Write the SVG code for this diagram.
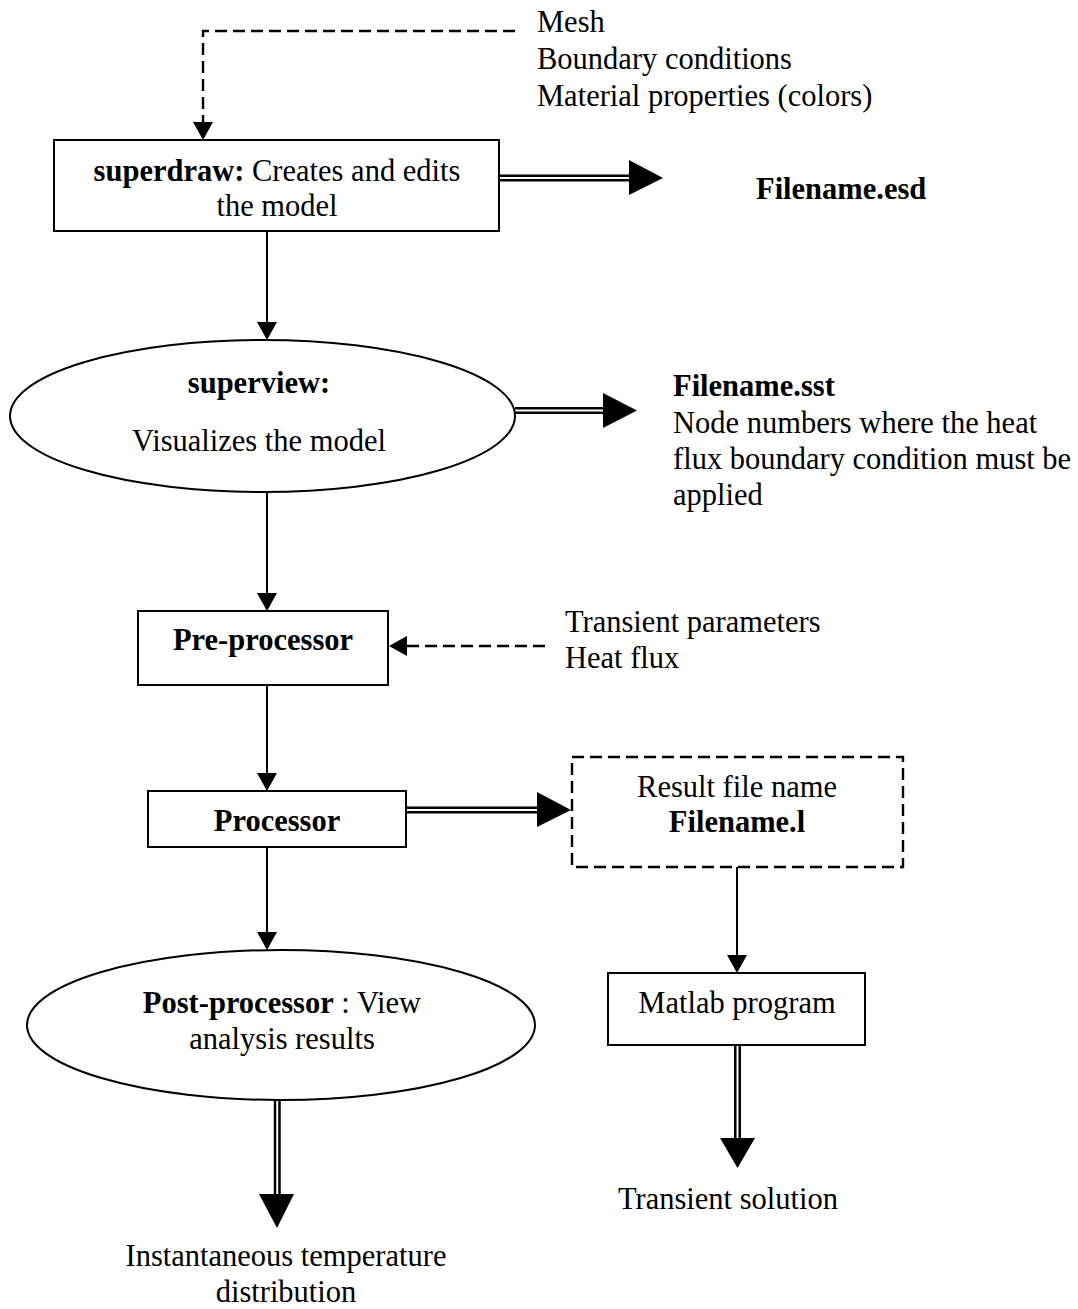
<svg xmlns="http://www.w3.org/2000/svg" width="1078" height="1309" viewBox="0 0 1078 1309">
<style>
text{font-family:"Liberation Serif","Times New Roman",serif;font-size:30.5px;fill:#000}
.b{font-weight:bold}
.m{text-anchor:middle}
.shape{fill:#fff;stroke:#000;stroke-width:2}
.ln{fill:none;stroke:#000;stroke-width:2}
.dash{fill:none;stroke:#000;stroke-width:2.4;stroke-dasharray:12 6}
.dbl{fill:none;stroke:#000;stroke-width:2.5}
.head{fill:#000}
</style>
<rect width="1078" height="1309" fill="#fff"/>
<g id="connectors">
  <path class="dash" d="M515 31H203V122"/>
  <polygon class="head" points="193,122 213,122 203,140"/>
  <path class="dbl" d="M499 175.75H629M499 180.25H629"/>
  <polygon class="head" points="629,160 629,195 663,178"/>
  <path class="ln" d="M267 231V322"/>
  <polygon class="head" points="257,322 277,322 267,340"/>
  <path class="dbl" d="M515 408.25H603M515 412.75H603"/>
  <polygon class="head" points="603,393 603,428 637,410.5"/>
  <path class="ln" d="M267 492V593"/>
  <polygon class="head" points="257,593 277,593 267,611"/>
  <path class="dash" d="M545 646H407"/>
  <polygon class="head" points="407,636 407,656 389,646"/>
  <path class="ln" d="M267 685V773"/>
  <polygon class="head" points="257,773 277,773 267,791"/>
  <path class="dbl" d="M406 807.75H537M406 812.25H537"/>
  <polygon class="head" points="537,792 537,827 571,810"/>
  <path class="ln" d="M737 867V955"/>
  <polygon class="head" points="727,955 747,955 737,973"/>
  <path class="dbl" d="M735.25 1045V1138M739.75 1045V1138"/>
  <polygon class="head" points="720,1138 755,1138 737.5,1168"/>
  <path class="ln" d="M267 847V932"/>
  <polygon class="head" points="257,932 277,932 267,950"/>
  <path class="dbl" d="M275 1100V1194M279.5 1100V1194"/>
  <polygon class="head" points="259,1194 294,1194 277,1228"/>
</g>
<g id="inputs-top">
  <text x="537" y="32">Mesh</text>
  <text x="537" y="69">Boundary conditions</text>
  <text x="537" y="106">Material properties (colors)</text>
</g>
<g id="superdraw">
  <rect class="shape" x="54" y="140" width="445" height="91"/>
  <text class="m" x="277" y="181"><tspan class="b">superdraw:</tspan> Creates and edits</text>
  <text class="m" x="277" y="216">the model</text>
</g>
<g id="esd">
  <text class="b" x="756" y="199">Filename.esd</text>
</g>
<g id="superview">
  <ellipse class="shape" cx="262.5" cy="416" rx="252.5" ry="76"/>
  <text class="b m" x="259" y="393">superview:</text>
  <text class="m" x="259" y="451">Visualizes the model</text>
</g>
<g id="sst">
  <text class="b" x="673" y="396">Filename.sst</text>
  <text x="673" y="433">Node numbers where the heat</text>
  <text x="673" y="469">flux boundary condition must be</text>
  <text x="673" y="505">applied</text>
</g>
<g id="preprocessor">
  <rect class="shape" x="138" y="611" width="250" height="74"/>
  <text class="b m" x="263" y="650">Pre-processor</text>
</g>
<g id="transient-inputs">
  <text x="565" y="632">Transient parameters</text>
  <text x="565" y="668">Heat flux</text>
</g>
<g id="processor">
  <rect class="shape" x="148" y="791" width="258" height="56"/>
  <text class="b m" x="277" y="831">Processor</text>
</g>
<g id="resultfile">
  <rect class="dash" x="572" y="757" width="331" height="110"/>
  <text class="m" x="737" y="797">Result file name</text>
  <text class="b m" x="737" y="832">Filename.l</text>
</g>
<g id="matlab">
  <rect class="shape" x="608" y="973" width="257" height="72"/>
  <text class="m" x="737" y="1013">Matlab program</text>
</g>
<g id="transient-solution">
  <text class="m" x="728" y="1209">Transient solution</text>
</g>
<g id="postprocessor">
  <ellipse class="shape" cx="281" cy="1025" rx="254" ry="75"/>
  <text class="m" x="282" y="1013"><tspan class="b">Post-processor</tspan> : View</text>
  <text class="m" x="282" y="1049">analysis results</text>
</g>
<g id="instantaneous">
  <text class="m" x="286" y="1266">Instantaneous temperature</text>
  <text class="m" x="286" y="1302">distribution</text>
</g>
</svg>
